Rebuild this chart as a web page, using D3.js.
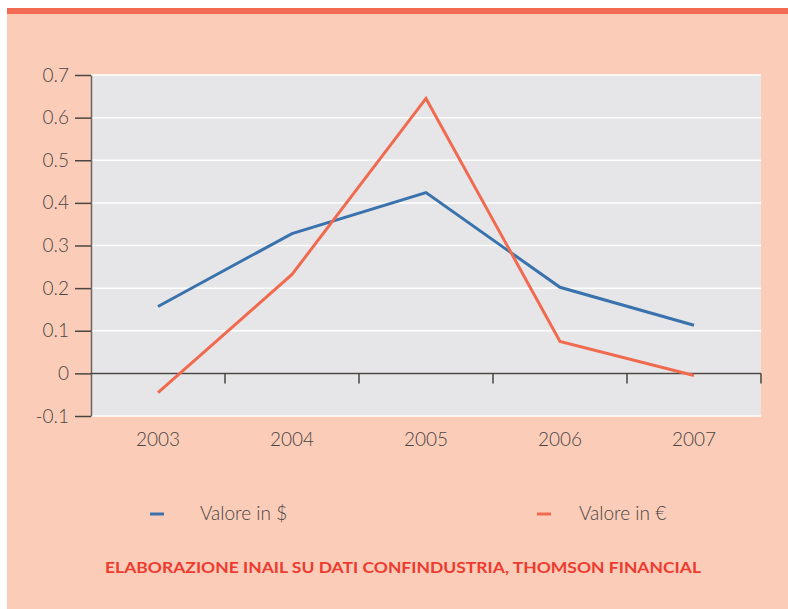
<!DOCTYPE html>
<html>
<head>
<meta charset="utf-8">
<script src="https://cdn.jsdelivr.net/npm/d3@7"></script>
<style>
  body { margin: 0; background: #fff; }
  text { font-family: Lato, "Open Sans", sans-serif; }
</style>
</head>
<body>
<svg id="chart"></svg>
<script>
// chart data
const years = ['2003', '2004', '2005', '2006', '2007'];
const valoreDollaro = [0.157, 0.328, 0.424, 0.202, 0.113];
const valoreEuro = [-0.045, 0.232, 0.645, 0.075, -0.005];
const yTicks = [-0.1, 0, 0.1, 0.2, 0.3, 0.4, 0.5, 0.6, 0.7];
const seriesNames = ['Valore in $', 'Valore in €'];
const sourceText = 'ELABORAZIONE INAIL SU DATI CONFINDUSTRIA, THOMSON FINANCIAL';

const width = 788, height = 609;
const margin = { top: 75, right: 27, bottom: 193, left: 91 };
const innerW = width - margin.left - margin.right;
const innerH = height - margin.top - margin.bottom;
const colors = ['#3a72ad', '#f06a4f'];

const svg = d3.select('#chart')
    .attr('width', width)
    .attr('height', height);

// background panel and top stripe
svg.append('rect')
    .attr('x', 7).attr('y', 8)
    .attr('width', width - 7).attr('height', height - 8)
    .attr('fill', '#fbcdb9');
svg.append('rect')
    .attr('x', 7).attr('y', 8)
    .attr('width', width - 7).attr('height', 6)
    .attr('fill', '#f26b52');

const chartArea = svg.append('g')
    .attr('transform', `translate(${margin.left},${margin.top})`);

const xScale = d3.scaleBand()
    .domain(years)
    .range([0, innerW])
    .padding(0);

const yScale = d3.scaleLinear()
    .domain([-0.1, 0.7])
    .range([innerH, 0]);

chartArea.append('rect')
    .attr('width', innerW)
    .attr('height', innerH)
    .attr('fill', '#e6e6e8');

// white gridlines
chartArea.selectAll('.grid')
    .data(yTicks)
    .join('line')
    .attr('class', 'grid')
    .attr('x1', 0).attr('x2', innerW)
    .attr('y1', d => yScale(d)).attr('y2', d => yScale(d))
    .attr('stroke', '#fff')
    .attr('stroke-width', 1.5);

// y axis (plain hyphen for negatives, like the original)
const yAxis = d3.axisLeft(yScale)
    .tickValues(yTicks)
    .tickFormat(d => String(+d.toFixed(1)))
    .tickSize(16)
    .tickPadding(6)
    .tickSizeOuter(0);

const yAxisG = chartArea.append('g')
    .call(yAxis);
yAxisG.select('.domain').attr('stroke', '#6b6460').attr('stroke-width', 1.5);
yAxisG.selectAll('.tick line').attr('stroke', '#4a4442').attr('stroke-width', 1.5);
yAxisG.selectAll('.tick text')
    .attr('fill', '#4a4442')
    .attr('font-size', 19)
    .attr('font-weight', 300);

// zero line with category separators
const xAxis = d3.axisBottom(xScale)
    .tickValues([])
    .tickSizeOuter(0);
chartArea.append('line')
    .attr('x1', 0).attr('x2', innerW)
    .attr('y1', yScale(0)).attr('y2', yScale(0))
    .attr('stroke', '#4a4442')
    .attr('stroke-width', 1.5);
chartArea.selectAll('.sep')
    .data(years)
    .join('line')
    .attr('class', 'sep')
    .attr('x1', d => xScale(d) + xScale.bandwidth())
    .attr('x2', d => xScale(d) + xScale.bandwidth())
    .attr('y1', yScale(0)).attr('y2', yScale(0) + 10)
    .attr('stroke', '#4a4442')
    .attr('stroke-width', 1.5);

// year labels below plot
const xLabelG = chartArea.append('g')
    .attr('transform', `translate(0,${innerH})`)
    .call(xAxis);
xLabelG.select('.domain').remove();
xLabelG.selectAll('.yr')
    .data(years)
    .join('text')
    .attr('class', 'yr')
    .attr('x', d => xScale(d) + xScale.bandwidth() / 2)
    .attr('y', 30)
    .attr('text-anchor', 'middle')
    .attr('fill', '#4a4442')
    .attr('font-size', 19)
    .attr('font-weight', 300)
    .text(d => d);

// lines
const line = d3.line()
    .x((d, i) => xScale(years[i]) + xScale.bandwidth() / 2)
    .y(d => yScale(d));

[valoreDollaro, valoreEuro].forEach((series, i) => {
    chartArea.append('path')
        .datum(series)
        .attr('fill', 'none')
        .attr('stroke', colors[i])
        .attr('stroke-width', 3)
        .attr('d', line);
});

// legend
const legendX = [150, 537];
const legendTextOffset = [50, 42];
const legend = svg.selectAll('.legend')
    .data(seriesNames)
    .join('g')
    .attr('class', 'legend')
    .attr('transform', (d, i) => `translate(${legendX[i]},514)`);
legend.append('line')
    .attr('x1', 0).attr('x2', 14)
    .attr('stroke', (d, i) => colors[i])
    .attr('stroke-width', 3);
legend.append('text')
    .attr('x', (d, i) => legendTextOffset[i])
    .attr('y', 6)
    .attr('fill', '#4a4442')
    .attr('font-size', 19)
    .attr('font-weight', 300)
    .text(d => d);

// source note
svg.append('text')
    .attr('x', 105)
    .attr('y', 573)
    .attr('fill', '#ee3b30')
    .attr('font-size', 16)
    .attr('font-weight', 'bold')
    .attr('textLength', 596)
    .attr('lengthAdjust', 'spacingAndGlyphs')
    .text(sourceText);
</script>
</body>
</html>
